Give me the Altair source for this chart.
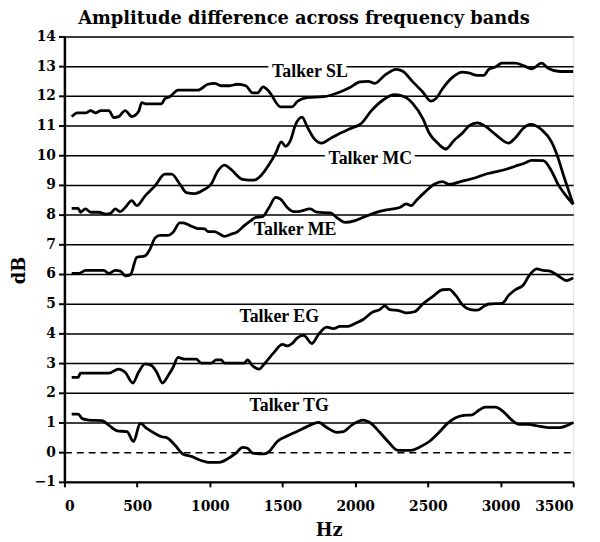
import altair as alt
import pandas as pd

# ---- data (Hz, dB) ----
talker_sl = [(50, 11.30), (90, 11.43), (150, 11.43), (180, 11.50), (215, 11.43), (250, 11.50),
             (305, 11.50), (340, 11.27), (373, 11.30), (418, 11.50), (464, 11.30), (510, 11.47),
             (532, 11.77), (560, 11.73), (668, 11.73), (692, 11.91), (725, 11.97), (782, 12.19),
             (918, 12.19), (987, 12.39), (1032, 12.42), (1078, 12.34), (1135, 12.34), (1190, 12.39),
             (1248, 12.34), (1294, 12.10), (1328, 12.10), (1367, 12.30), (1407, 12.15), (1487, 11.63),
             (1567, 11.63), (1600, 11.80), (1669, 11.94), (1783, 11.97), (1896, 12.13), (1964, 12.28),
             (2033, 12.47), (2090, 12.49), (2135, 12.42), (2203, 12.69), (2283, 12.89), (2328, 12.83),
             (2397, 12.47), (2465, 12.13), (2521, 11.82), (2556, 11.91), (2601, 12.24), (2669, 12.62),
             (2737, 12.80), (2782, 12.77), (2840, 12.69), (2885, 12.69), (2919, 12.89), (2964, 12.97),
             (3010, 13.10), (3101, 13.10), (3157, 13.02), (3215, 12.91), (3283, 13.10), (3328, 12.93),
             (3408, 12.82), (3500, 12.82)]

talker_mc = [(50, 8.21), (95, 8.21), (110, 8.08), (145, 8.19), (180, 8.08), (237, 8.08),
             (282, 8.02), (316, 8.04), (350, 8.19), (384, 8.10), (418, 8.24), (464, 8.47),
             (498, 8.30), (555, 8.63), (623, 8.97), (691, 9.36), (737, 9.36), (794, 9.03),
             (839, 8.74), (896, 8.71), (953, 8.82), (1010, 9.03), (1055, 9.47), (1101, 9.67),
             (1146, 9.52), (1225, 9.19), (1305, 9.16), (1351, 9.31), (1408, 9.69), (1453, 10.06),
             (1492, 10.45), (1521, 10.30), (1555, 10.50), (1589, 11.02), (1635, 11.28), (1669, 10.97),
             (1715, 10.58), (1771, 10.41), (1828, 10.56), (1896, 10.74), (1964, 10.89), (2044, 11.08),
             (2112, 11.50), (2192, 11.86), (2271, 12.04), (2339, 11.97), (2397, 11.74), (2465, 11.24),
             (2510, 10.74), (2567, 10.41), (2624, 10.21), (2680, 10.50), (2737, 10.74), (2783, 10.99),
             (2840, 11.09), (2897, 10.97), (2965, 10.70), (3056, 10.41), (3101, 10.58), (3157, 10.91),
             (3204, 11.04), (3283, 10.86), (3351, 10.45), (3396, 9.91), (3431, 9.36), (3465, 8.86),
             (3500, 8.35)]

talker_me = [(50, 6.02), (100, 6.02), (146, 6.12), (271, 6.12), (305, 6.02), (350, 6.12),
             (385, 6.10), (418, 5.94), (453, 5.97), (498, 6.56), (555, 6.61), (589, 6.84),
             (623, 7.21), (657, 7.30), (714, 7.30), (748, 7.41), (794, 7.72), (816, 7.72),
             (873, 7.61), (918, 7.53), (964, 7.52), (987, 7.43), (1032, 7.43), (1101, 7.27),
             (1146, 7.34), (1192, 7.43), (1237, 7.63), (1283, 7.80), (1317, 7.91), (1362, 7.93),
             (1408, 8.24), (1453, 8.58), (1487, 8.52), (1533, 8.24), (1578, 8.10), (1600, 8.10),
             (1691, 8.19), (1737, 8.08), (1828, 8.06), (1885, 7.86), (1931, 7.74), (2000, 7.80),
             (2056, 7.91), (2135, 8.06), (2215, 8.16), (2306, 8.24), (2351, 8.36), (2385, 8.30),
             (2419, 8.47), (2476, 8.74), (2544, 9.02), (2601, 9.11), (2646, 9.02), (2737, 9.13),
             (2828, 9.24), (2896, 9.36), (2965, 9.44), (3033, 9.52), (3101, 9.63), (3169, 9.74),
             (3215, 9.83), (3294, 9.82), (3351, 9.47), (3396, 9.02), (3442, 8.69), (3500, 8.35)]

talker_eg = [(50, 2.52), (95, 2.52), (110, 2.66), (305, 2.66), (373, 2.80), (418, 2.69),
             (471, 2.33), (510, 2.69), (555, 2.97), (601, 2.91), (635, 2.69), (675, 2.33),
             (714, 2.58), (748, 2.86), (782, 3.19), (828, 3.13), (907, 3.13), (941, 3.00),
             (1010, 3.00), (1044, 3.11), (1078, 3.11), (1101, 3.00), (1237, 3.00), (1260, 3.11),
             (1294, 2.91), (1340, 2.80), (1374, 2.97), (1442, 3.36), (1499, 3.63), (1533, 3.58),
             (1567, 3.66), (1600, 3.84), (1646, 3.93), (1703, 3.66), (1748, 3.97), (1805, 4.21),
             (1851, 4.16), (1896, 4.24), (1953, 4.24), (2010, 4.36), (2056, 4.47), (2124, 4.73),
             (2169, 4.80), (2203, 4.93), (2237, 4.80), (2306, 4.76), (2351, 4.69), (2408, 4.73),
             (2465, 4.99), (2533, 5.24), (2601, 5.47), (2646, 5.48), (2692, 5.28), (2737, 4.97),
             (2794, 4.80), (2840, 4.78), (2885, 4.91), (2919, 4.99), (3010, 5.01), (3056, 5.28),
             (3101, 5.47), (3157, 5.63), (3192, 5.91), (3249, 6.17), (3294, 6.12), (3340, 6.10),
             (3396, 5.94), (3453, 5.78), (3500, 5.87)]

talker_tg = [(50, 1.28), (95, 1.28), (123, 1.13), (168, 1.08), (259, 1.06), (305, 0.91),
             (362, 0.72), (430, 0.69), (476, 0.36), (521, 0.97), (566, 0.80), (623, 0.63),
             (669, 0.52), (703, 0.49), (760, 0.24), (816, -0.07), (873, -0.14), (941, -0.28),
             (987, -0.34), (1067, -0.34), (1123, -0.22), (1180, -0.03), (1226, 0.16), (1260, 0.13),
             (1294, -0.03), (1374, -0.06), (1408, 0.02), (1464, 0.36), (1521, 0.52), (1600, 0.70),
             (1669, 0.86), (1749, 1.00), (1805, 0.83), (1874, 0.67), (1919, 0.69), (1976, 0.91),
             (2056, 1.08), (2101, 1.00), (2169, 0.67), (2226, 0.36), (2294, 0.06), (2385, 0.06),
             (2442, 0.17), (2510, 0.36), (2578, 0.67), (2635, 0.97), (2692, 1.16), (2737, 1.23),
             (2805, 1.26), (2851, 1.41), (2896, 1.52), (2965, 1.52), (3021, 1.36), (3078, 1.08),
             (3124, 0.94), (3192, 0.94), (3249, 0.89), (3328, 0.83), (3408, 0.83), (3453, 0.89),
             (3500, 1.00)]

label_names = ["Talker SL", "Talker MC", "Talker ME", "Talker EG", "Talker TG"]
label_hz = [1689, 2104, 1587, 1478, 1546]
label_db = [12.63, 9.70, 7.30, 4.37, 1.37]

x_ticks = [0, 500, 1000, 1500, 2000, 2500, 3000, 3500]
y_ticks = list(range(-1, 15))

series = {"SL": talker_sl, "MC": talker_mc, "ME": talker_me, "EG": talker_eg, "TG": talker_tg}
rows = []
for name, pts in series.items():
    for hz, db in pts:
        rows.append({"talker": name, "hz": hz, "db": db})
df = pd.DataFrame(rows)
labels = pd.DataFrame({"label": label_names, "hz": label_hz, "db": label_db})

FONT = "DejaVu Serif"
LFONT = "Liberation Serif"

x_enc = alt.X("hz:Q", scale=alt.Scale(domain=[0, 3500], nice=False, zero=False),
              axis=alt.Axis(values=x_ticks, grid=False, title="Hz", format="d",
                            labelFont=FONT, labelFontSize=14, labelFontWeight="bold", labelColor="black",
                            labelPadding=13, tickSize=5, tickWidth=2, tickColor="black",
                            domainColor="black", domainWidth=2.5,
                            titleFont=FONT, titleFontSize=18, titleFontWeight="bold", titleColor="black",
                            titleX=267, titleY=54, titleBaseline="alphabetic"))
y_enc = alt.Y("db:Q", scale=alt.Scale(domain=[-1, 14], nice=False, zero=False),
              axis=alt.Axis(values=y_ticks, grid=True, title="dB", format="d",
                            gridColor="black", gridWidth=1.5, gridOpacity=1,
                            gridDash={"condition": {"test": "datum.value === 0", "value": [7, 5]}, "value": []},
                            labelFont=FONT, labelFontSize=14, labelFontWeight="bold", labelColor="black",
                            labelPadding=3, tickSize=6, tickWidth=2, tickColor="black",
                            domainColor="black", domainWidth=2.5,
                            titleFont=FONT, titleFontSize=18, titleFontWeight="bold", titleColor="black",
                            titleX=-36, titleY=236))

halo = alt.Chart(labels).mark_text(font=LFONT, fontSize=18, fontWeight="bold", fill="white",
                                   stroke="white", strokeWidth=8, baseline="alphabetic").encode(
    x=x_enc, y=y_enc, text="label:N")

lines = alt.Chart(df).mark_line(color="black", strokeWidth=2.8, interpolate="monotone").encode(
    x=x_enc, y=y_enc, detail="talker:N")

text = alt.Chart(labels).mark_text(font=LFONT, fontSize=18, fontWeight="bold", color="black",
                                   baseline="alphabetic").encode(
    x=x_enc, y=y_enc, text="label:N")

chart = alt.layer(halo, lines, text).properties(
    width=514, height=450,
    autosize=alt.AutoSizeParams(type="none"),
    padding={"left": 57, "top": 26, "right": 19, "bottom": 58},
    title=alt.TitleParams("Amplitude difference across frequency bands", font=FONT, fontSize=18,
                          fontWeight="bold", color="black", anchor="middle", frame="group",
                          dx=-15, offset=2),
).configure_view(stroke="black", strokeWidth=2.5).configure(background="white")

chart.save("out.html", embed_options={"renderer": "svg", "actions": False})
